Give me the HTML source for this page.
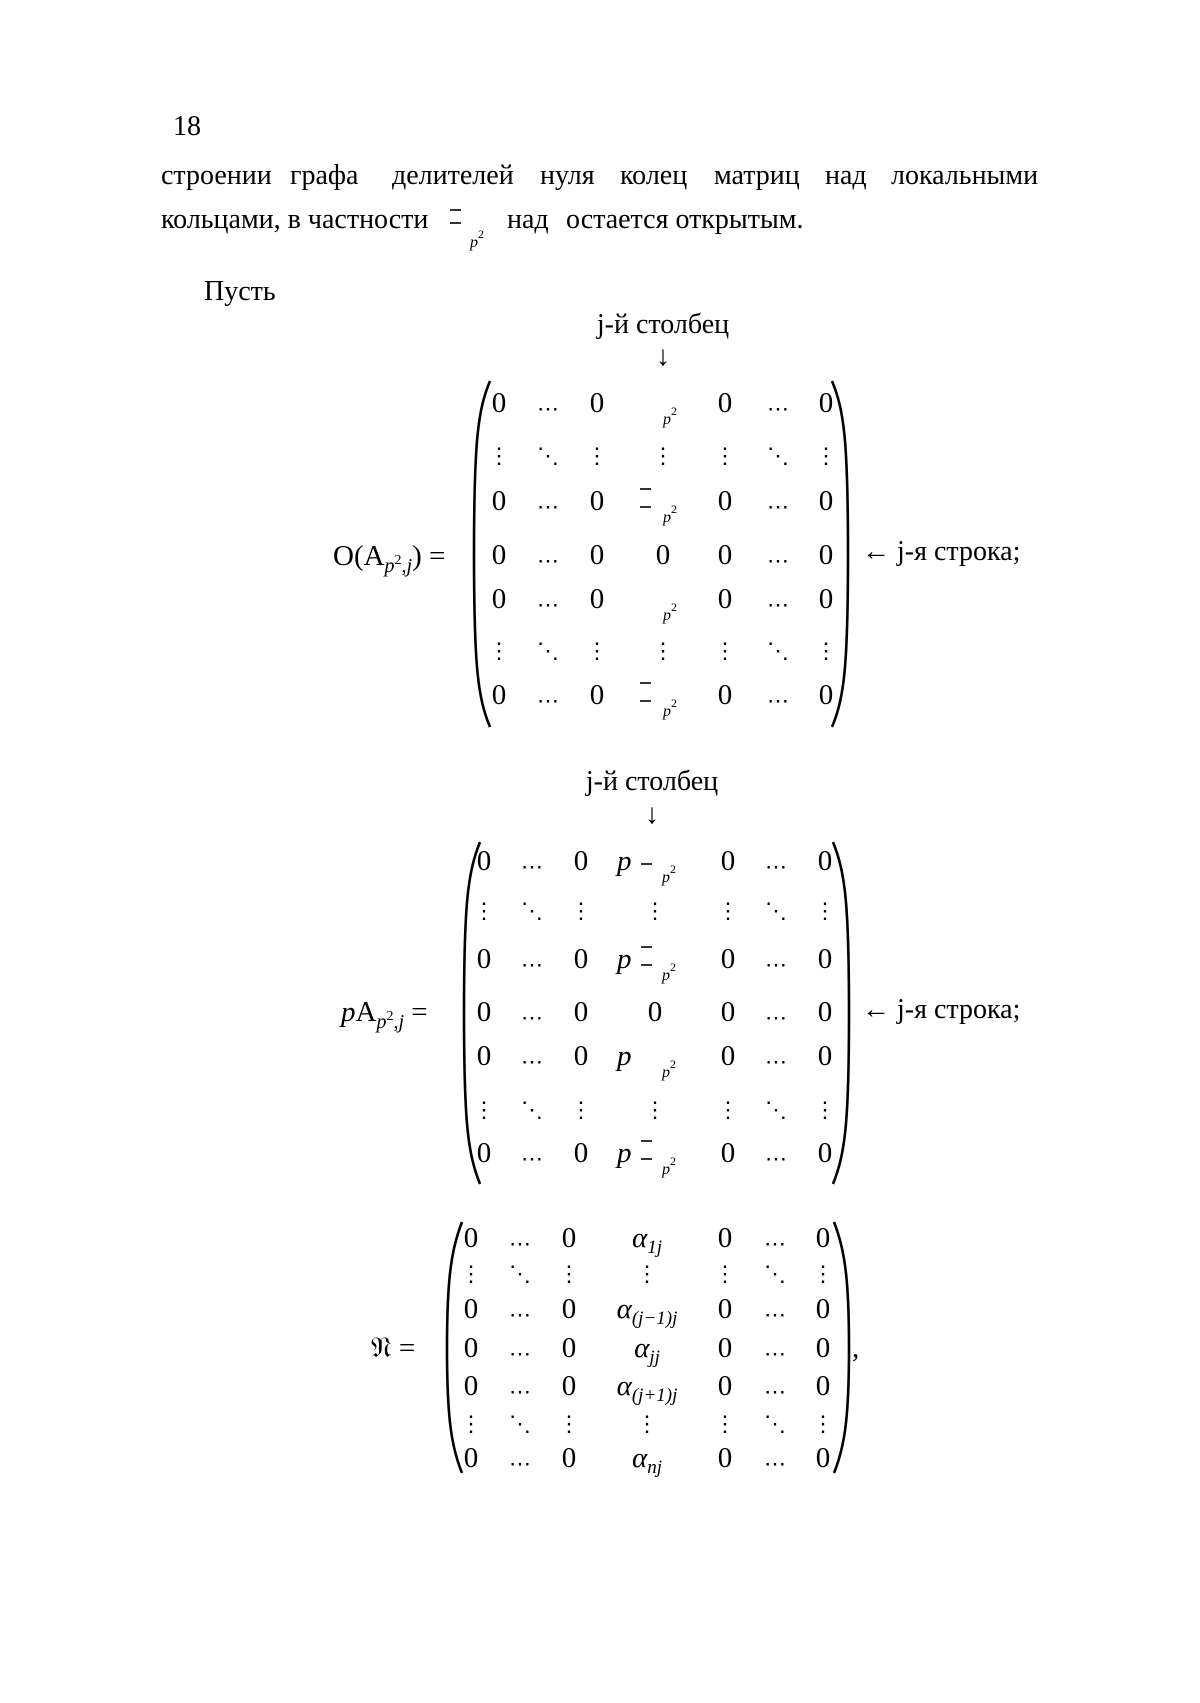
<!DOCTYPE html>
<html><head><meta charset="utf-8"><style>
html,body{margin:0;padding:0;background:#fff;}
svg{display:block;}
text{font-family:"Liberation Serif","DejaVu Serif",serif;fill:#000;}
.b{font-size:28px;}
.m{font-size:29px;}
.s{font-size:16px;font-style:italic;}
.d{font-family:"DejaVu Sans",sans-serif;font-size:22px;}
.h{transform:translateY(8px);}
.i{font-style:italic;}
path.p{fill:none;stroke:#000;stroke-width:2.6;}
line{stroke:#000;stroke-width:1.6;}
</style></head><body>
<svg width="1200" height="1703" viewBox="0 0 1200 1703" xmlns="http://www.w3.org/2000/svg">
<text class="b" x="173" y="135">18</text>
<text class="b" y="184"><tspan x="161">строении</tspan><tspan x="290">графа</tspan><tspan x="392">делителей</tspan><tspan x="540">нуля</tspan><tspan x="620">колец</tspan><tspan x="714">матриц</tspan><tspan x="825">над</tspan><tspan x="891">локальными</tspan></text>
<text class="b" x="161" y="228">кольцами, в частности</text>
<line x1="450" y1="210" x2="461" y2="210"/><line x1="450" y1="223" x2="461" y2="223"/>
<text class="s" x="470" y="247">p<tspan font-style="normal" font-size="12" dy="-9">2</tspan></text>
<text class="b" x="507" y="228">над</text>
<text class="b" x="566" y="228">остается открытым.</text>
<text class="b" x="204" y="300">Пусть</text>

<!-- Matrix 1 -->
<text class="b" x="663" y="333" text-anchor="middle">j-й столбец</text>
<text class="b" x="663" y="365" text-anchor="middle">↓</text>
<text class="m" x="333" y="565">O(A<tspan class="i" font-size="20" dy="7">p</tspan><tspan font-size="14" dy="-8">2</tspan><tspan class="i" font-size="20" dy="8">,j</tspan><tspan dy="-7">) =</tspan></text>
<path class="p" d="M490,381 C478,410 474,440 474,554 C474,668 478,698 490,727"/>
<path class="p" d="M832,381 C844,410 848,440 848,554 C848,668 844,698 832,727"/>
<text class="b" x="862" y="560">← j-я строка;</text>
<g class="m" text-anchor="middle">
<text x="499" y="412">0</text><text x="597" y="412">0</text><text x="725" y="412">0</text><text x="826" y="412">0</text>
<text x="499" y="510">0</text><text x="597" y="510">0</text><text x="725" y="510">0</text><text x="826" y="510">0</text>
<text x="499" y="564">0</text><text x="597" y="564">0</text><text x="663" y="564">0</text><text x="725" y="564">0</text><text x="826" y="564">0</text>
<text x="499" y="608">0</text><text x="597" y="608">0</text><text x="725" y="608">0</text><text x="826" y="608">0</text>
<text x="499" y="704">0</text><text x="597" y="704">0</text><text x="725" y="704">0</text><text x="826" y="704">0</text>
</g>
<g class="d" text-anchor="middle">
<g class="h">
<text x="548" y="408">⋯</text><text x="778" y="408">⋯</text>
<text x="548" y="506">⋯</text><text x="778" y="506">⋯</text>
<text x="548" y="560">⋯</text><text x="778" y="560">⋯</text>
<text x="548" y="604">⋯</text><text x="778" y="604">⋯</text>
<text x="548" y="700">⋯</text><text x="778" y="700">⋯</text>
</g>
<text x="499" y="463">⋮</text><text x="548" y="463">⋱</text><text x="597" y="463">⋮</text><text x="663" y="463">⋮</text><text x="725" y="463">⋮</text><text x="778" y="463">⋱</text><text x="826" y="463">⋮</text>
<text x="499" y="658">⋮</text><text x="548" y="658">⋱</text><text x="597" y="658">⋮</text><text x="663" y="658">⋮</text><text x="725" y="658">⋮</text><text x="778" y="658">⋱</text><text x="826" y="658">⋮</text>
</g>
<text class="s" x="663" y="424">p<tspan font-style="normal" font-size="12" dy="-9">2</tspan></text>
<text class="s" x="663" y="522">p<tspan font-style="normal" font-size="12" dy="-9">2</tspan></text>
<text class="s" x="663" y="620">p<tspan font-style="normal" font-size="12" dy="-9">2</tspan></text>
<text class="s" x="663" y="716">p<tspan font-style="normal" font-size="12" dy="-9">2</tspan></text>
<line x1="640" y1="489" x2="651" y2="489"/><line x1="640" y1="507" x2="651" y2="507"/>
<line x1="640" y1="683" x2="651" y2="683"/><line x1="640" y1="701" x2="651" y2="701"/>

<!-- Matrix 2 -->
<text class="b" x="652" y="790" text-anchor="middle">j-й столбец</text>
<text class="b" x="652" y="823" text-anchor="middle">↓</text>
<text class="m" x="341" y="1021"><tspan class="i">p</tspan>A<tspan class="i" font-size="20" dy="7">p</tspan><tspan font-size="14" dy="-8">2</tspan><tspan class="i" font-size="20" dy="8">,j</tspan><tspan dy="-7"> =</tspan></text>
<path class="p" d="M480,842 C468,872 464,902 464,1013 C464,1124 468,1154 480,1184"/>
<path class="p" d="M833,842 C845,872 849,902 849,1013 C849,1124 845,1154 833,1184"/>
<text class="b" x="862" y="1018">← j-я строка;</text>
<g class="m" text-anchor="middle">
<text x="484" y="870">0</text><text x="581" y="870">0</text><text x="728" y="870">0</text><text x="825" y="870">0</text>
<text x="484" y="968">0</text><text x="581" y="968">0</text><text x="728" y="968">0</text><text x="825" y="968">0</text>
<text x="484" y="1021">0</text><text x="581" y="1021">0</text><text x="655" y="1021">0</text><text x="728" y="1021">0</text><text x="825" y="1021">0</text>
<text x="484" y="1065">0</text><text x="581" y="1065">0</text><text x="728" y="1065">0</text><text x="825" y="1065">0</text>
<text x="484" y="1162">0</text><text x="581" y="1162">0</text><text x="728" y="1162">0</text><text x="825" y="1162">0</text>
</g>
<g class="d" text-anchor="middle">
<g class="h">
<text x="532" y="866">⋯</text><text x="776" y="866">⋯</text>
<text x="532" y="964">⋯</text><text x="776" y="964">⋯</text>
<text x="532" y="1017">⋯</text><text x="776" y="1017">⋯</text>
<text x="532" y="1061">⋯</text><text x="776" y="1061">⋯</text>
<text x="532" y="1158">⋯</text><text x="776" y="1158">⋯</text>
</g>
<text x="484" y="918">⋮</text><text x="532" y="918">⋱</text><text x="581" y="918">⋮</text><text x="655" y="918">⋮</text><text x="728" y="918">⋮</text><text x="776" y="918">⋱</text><text x="825" y="918">⋮</text>
<text x="484" y="1117">⋮</text><text x="532" y="1117">⋱</text><text x="581" y="1117">⋮</text><text x="655" y="1117">⋮</text><text x="728" y="1117">⋮</text><text x="776" y="1117">⋱</text><text x="825" y="1117">⋮</text>
</g>
<g class="m i">
<text x="617" y="870">p</text><text x="617" y="968">p</text><text x="617" y="1065">p</text><text x="617" y="1162">p</text>
</g>
<text class="s" x="662" y="882">p<tspan font-style="normal" font-size="12" dy="-9">2</tspan></text>
<text class="s" x="662" y="980">p<tspan font-style="normal" font-size="12" dy="-9">2</tspan></text>
<text class="s" x="662" y="1077">p<tspan font-style="normal" font-size="12" dy="-9">2</tspan></text>
<text class="s" x="662" y="1174">p<tspan font-style="normal" font-size="12" dy="-9">2</tspan></text>
<line x1="641" y1="864" x2="652" y2="864"/>
<line x1="641" y1="947" x2="652" y2="947"/><line x1="641" y1="965" x2="652" y2="965"/>
<line x1="641" y1="1141" x2="652" y2="1141"/><line x1="641" y1="1159" x2="652" y2="1159"/>

<!-- Matrix 3 -->
<text class="m" x="371" y="1357">𝔑 =</text>
<path class="p" d="M462,1222 C451,1250 447,1280 447,1348 C447,1416 451,1446 462,1473"/>
<path class="p" d="M834,1222 C845,1250 849,1280 849,1348 C849,1416 845,1446 834,1473"/>
<text class="m" x="852" y="1357">,</text>
<g class="m" text-anchor="middle">
<text x="471" y="1247">0</text><text x="569" y="1247">0</text><text x="725" y="1247">0</text><text x="823" y="1247">0</text>
<text x="471" y="1318">0</text><text x="569" y="1318">0</text><text x="725" y="1318">0</text><text x="823" y="1318">0</text>
<text x="471" y="1357">0</text><text x="569" y="1357">0</text><text x="725" y="1357">0</text><text x="823" y="1357">0</text>
<text x="471" y="1395">0</text><text x="569" y="1395">0</text><text x="725" y="1395">0</text><text x="823" y="1395">0</text>
<text x="471" y="1467">0</text><text x="569" y="1467">0</text><text x="725" y="1467">0</text><text x="823" y="1467">0</text>
</g>
<g class="d" text-anchor="middle">
<g class="h">
<text x="520" y="1243">⋯</text><text x="775" y="1243">⋯</text>
<text x="520" y="1314">⋯</text><text x="775" y="1314">⋯</text>
<text x="520" y="1353">⋯</text><text x="775" y="1353">⋯</text>
<text x="520" y="1391">⋯</text><text x="775" y="1391">⋯</text>
<text x="520" y="1463">⋯</text><text x="775" y="1463">⋯</text>
</g>
<text x="471" y="1281">⋮</text><text x="520" y="1281">⋱</text><text x="569" y="1281">⋮</text><text x="647" y="1281">⋮</text><text x="725" y="1281">⋮</text><text x="775" y="1281">⋱</text><text x="823" y="1281">⋮</text>
<text x="471" y="1431">⋮</text><text x="520" y="1431">⋱</text><text x="569" y="1431">⋮</text><text x="647" y="1431">⋮</text><text x="725" y="1431">⋮</text><text x="775" y="1431">⋱</text><text x="823" y="1431">⋮</text>
</g>
<g class="m i" text-anchor="middle">
<text x="647" y="1247">α<tspan font-size="19" dy="6">1j</tspan></text>
<text x="647" y="1318">α<tspan font-size="19" dy="6">(j−1)j</tspan></text>
<text x="647" y="1357">α<tspan font-size="19" dy="6">jj</tspan></text>
<text x="647" y="1395">α<tspan font-size="19" dy="6">(j+1)j</tspan></text>
<text x="647" y="1467">α<tspan font-size="19" dy="6">nj</tspan></text>
</g>
</svg>
</body></html>
